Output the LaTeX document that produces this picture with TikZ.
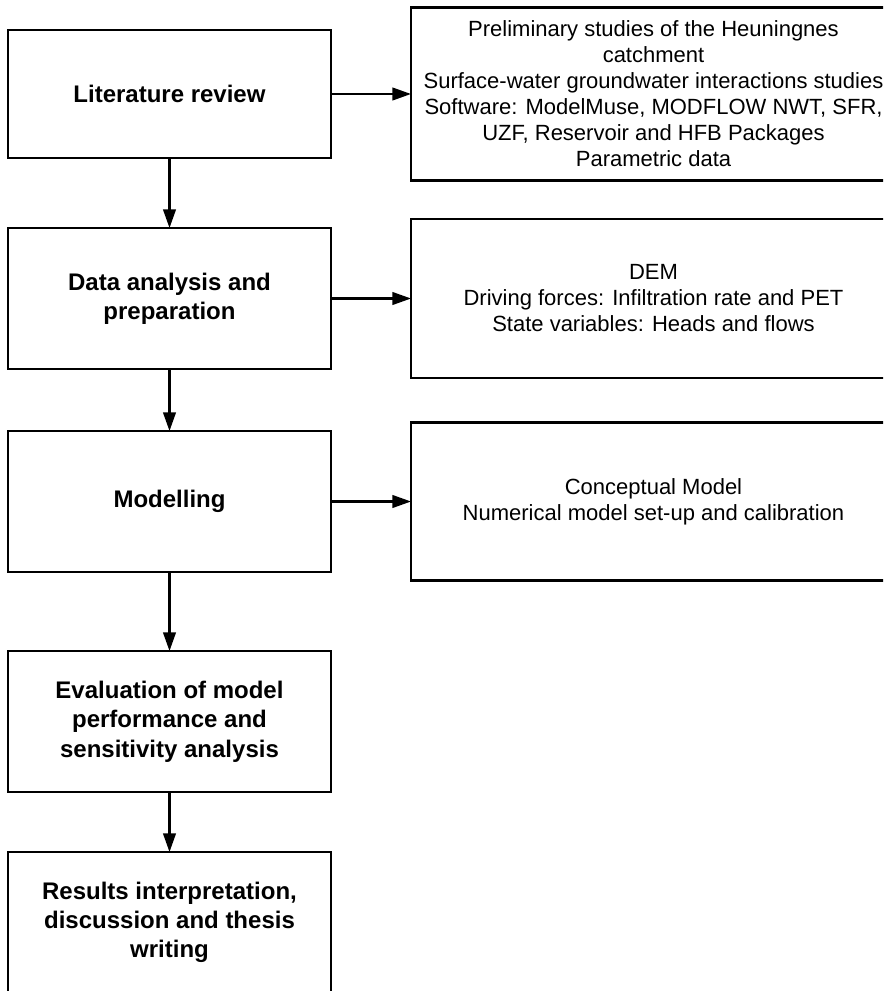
\documentclass[tikz,border=0pt]{standalone}
\usepackage{fontspec}
\setmainfont{Liberation Sans}
\usepackage{tikz}
\usetikzlibrary{arrows.meta,positioning}

\begin{document}
\begin{tikzpicture}[
    x=0.75pt, y=-0.75pt,
    node distance=52.5pt and 60pt,
    >={Triangle[length=14pt, width=9.5pt]},
    line width=1.6pt,
    stage/.style={draw, align=center, inner sep=0pt, outer sep=0pt, minimum width=242.25pt, minimum height=105.75pt, font=\bfseries\fontsize{18}{22}\selectfont},
    info/.style={draw, align=center, inner sep=0pt, outer sep=0pt, minimum width=363.75pt, font=\fontsize{16.5}{19.5}\selectfont}
  ]
    \clip (0,0) rectangle (883,991);

    \node[stage, anchor=north west, minimum height=96pt] (lit) at (8,30) {Literature review};
    \node[stage, below=of lit] (data) {Data analysis and\\preparation};
    \node[stage, below=46.5pt of data] (model) {Modelling};
    \node[stage, below=59.25pt of model] (eval) {Evaluation of model\\performance and\\sensitivity analysis};
    \node[stage, below=45pt of eval] (results) {Results interpretation,\\discussion and thesis\\writing};

    \node[info, right=of lit, minimum height=129.75pt] (litinfo) {Preliminary studies of the Heuningnes\\catchment\\Surface-water groundwater interactions studies\\Software: ModelMuse, MODFLOW NWT, SFR,\\UZF, Reservoir and HFB Packages\\Parametric data};
    \node[info, right=of data, minimum height=119.25pt] (datainfo) {DEM\\Driving forces: Infiltration rate and PET\\State variables: Heads and flows};
    \node[info, right=of model, minimum height=118.5pt] (modelinfo) {Conceptual Model\\Numerical model set-up and calibration};

    \draw[->] (lit) -- (data);
    \draw[->] (data) -- (model);
    \draw[->] (model) -- (eval);
    \draw[->] (eval) -- (results);
    \draw[->] (lit) -- (litinfo);
    \draw[->] (data) -- (datainfo);
    \draw[->] (model) -- (modelinfo);
  \end{tikzpicture}
\end{document}
